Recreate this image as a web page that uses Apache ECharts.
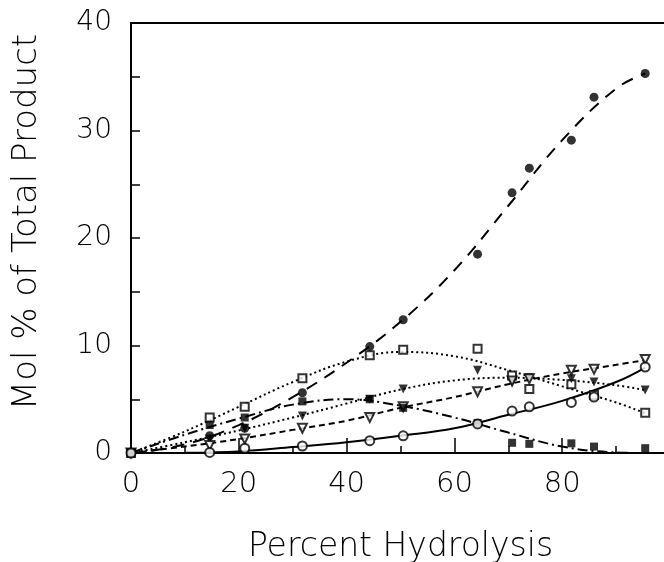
<!DOCTYPE html>
<html>
<head>
<meta charset="utf-8">
<script src="https://cdn.jsdelivr.net/npm/echarts@6/dist/echarts.min.js"></script>
<style>
  html, body { margin: 0; background: #fff; }
  #chart { width: 664px; height: 562px; }
</style>
</head>
<body>
<div id="chart"></div>
<script>
// measured points (percent hydrolysis)
const ptX = [0, 14.6, 21.1, 31.8, 44.3, 50.5, 64.3, 70.7, 73.9, 81.7, 85.9, 95.4];
const filledCircle = [0, 1.6, 2.3, 5.6, 9.9, 12.4, 18.5, 24.2, 26.5, 29.1, 33.1, 35.3];
const openSquare = [0, 3.3, 4.3, 6.95, 9.1, 9.6, 9.7, 7.2, 5.95, 6.4, 5.4, 3.75];
const filledTri = [0, 1.3, 2.3, 3.45, 5.0, 5.95, 7.7, 6.6, 7.0, 6.9, 6.6, 5.85];
const openTri = [0, 0.7, 1.3, 2.3, 3.3, 4.3, 5.7, 6.7, 6.9, 7.7, 7.8, 8.7];
const filledSquare = [0, 2.6, 3.3, 4.8, 5.0, 4.2, 2.8, 0.95, 0.85, 0.9, 0.6, 0.45];
const openCircle = [0, 0.05, 0.45, 0.65, 1.15, 1.6, 2.7, 3.9, 4.3, 4.7, 5.2, 8.0];

// fitted curves
const curveX = [0, 10, 20, 30, 40, 50, 60, 70, 80, 90, 95.4];
const fitFilledCircle = [0, 0.8, 2.6, 5.2, 8.4, 12.2, 17.0, 23.0, 29.1, 33.9, 35.3];
const fitOpenSquare = [0, 2.0, 4.3, 6.6, 8.5, 9.4, 9.0, 7.7, 6.2, 4.7, 3.7];
const fitFilledTri = [0, 1.0, 2.1, 3.3, 4.6, 5.9, 6.75, 7.0, 6.8, 6.3, 5.85];
const fitOpenTri = [0, 0.6, 1.3, 2.15, 3.0, 4.2, 5.2, 6.4, 7.4, 8.2, 8.65];
const fitFilledSquare = [0, 1.7, 3.2, 4.5, 5.0, 4.4, 3.3, 1.9, 0.6, 0.05, 0];
const fitOpenCircle = [0, 0.02, 0.15, 0.55, 1.0, 1.6, 2.3, 3.55, 4.85, 6.6, 7.95];

const FONT = '"DejaVu Sans", sans-serif';

const zip = (xs, ys) => xs.map((x, i) => [x, ys[i]]);

const chart = echarts.init(document.getElementById("chart"));

function curve(ys, dash) {
  return {
    type: "line",
    data: zip(curveX, ys),
    smooth: 0.4,
    symbol: "none",
    silent: true,
    lineStyle: { color: "#000", width: 2, type: dash },
    z: 2,
  };
}

function points(ys, symbol, filled, size, rotate) {
  return {
    type: "scatter",
    data: zip(ptX, ys),
    symbol: symbol,
    symbolSize: size,
    symbolRotate: rotate || 0,
    itemStyle: filled
      ? { color: "#000" }
      : { color: "#fff", borderColor: "#000", borderWidth: 2 },
    z: 5,
  };
}

const option = {
  backgroundColor: "#fff",
  animation: false,
  grid: {
    left: 131,
    top: 23,
    right: -6,
    bottom: 109,
    outerBoundsMode: "none",
    containLabel: false,
    show: true,
    borderColor: "#000",
    borderWidth: 2,
    backgroundColor: "transparent",
  },
  xAxis: {
    type: "value",
    min: 0,
    max: 100,
    interval: 20,
    name: "Percent Hydrolysis",
    nameLocation: "middle",
    nameGap: 78,
    nameTextStyle: { color: "#000", fontSize: 33, fontFamily: FONT, fontWeight: 300 },
    axisLine: { lineStyle: { color: "#000", width: 2 } },
    axisTick: { inside: true, length: 15, lineStyle: { color: "#000", width: 1.5 } },
    minorTick: { show: true, splitNumber: 2, length: 7, lineStyle: { color: "#000", width: 1.5 } },
    splitLine: { show: false },
    axisLabel: {
      color: "#000",
      fontSize: 29,
      fontFamily: FONT,
      fontWeight: 300,
      margin: 17,
      showMaxLabel: false,
    },
  },
  yAxis: {
    type: "value",
    min: 0,
    max: 40,
    interval: 5,
    axisLine: { lineStyle: { color: "#000", width: 2 } },
    axisTick: { inside: true, length: 9, lineStyle: { color: "#000", width: 1.5 } },
    splitLine: { show: false },
    axisLabel: {
      color: "#000",
      fontSize: 28,
      fontFamily: FONT,
      fontWeight: 300,
      margin: 19,
      formatter: (v) => (v % 10 === 0 ? String(v) : ""),
    },
  },
  graphic: [
    {
      type: "text",
      x: 27,
      y: 222,
      rotation: Math.PI / 2,
      style: {
        text: "Mol % of Total Product",
        fill: "#000",
        fontSize: 34,
        fontFamily: FONT,
        fontWeight: 300,
        align: "center",
        verticalAlign: "middle",
      },
    },
  ],
  series: [
    curve(fitFilledCircle, [12, 9]),
    curve(fitOpenSquare, [2, 3]),
    curve(fitFilledTri, [2, 3]),
    curve(fitOpenTri, [6, 4]),
    curve(fitFilledSquare, [10, 4, 2, 4]),
    curve(fitOpenCircle, "solid"),
    points(filledCircle, "circle", true, 9),
    points(openSquare, "rect", false, 8),
    points(filledTri, "triangle", true, 9, 180),
    points(openTri, "triangle", false, 9, 180),
    points(filledSquare, "rect", true, 8),
    points(openCircle, "circle", false, 9),
  ],
};

chart.setOption(option);
</script>
</body>
</html>
